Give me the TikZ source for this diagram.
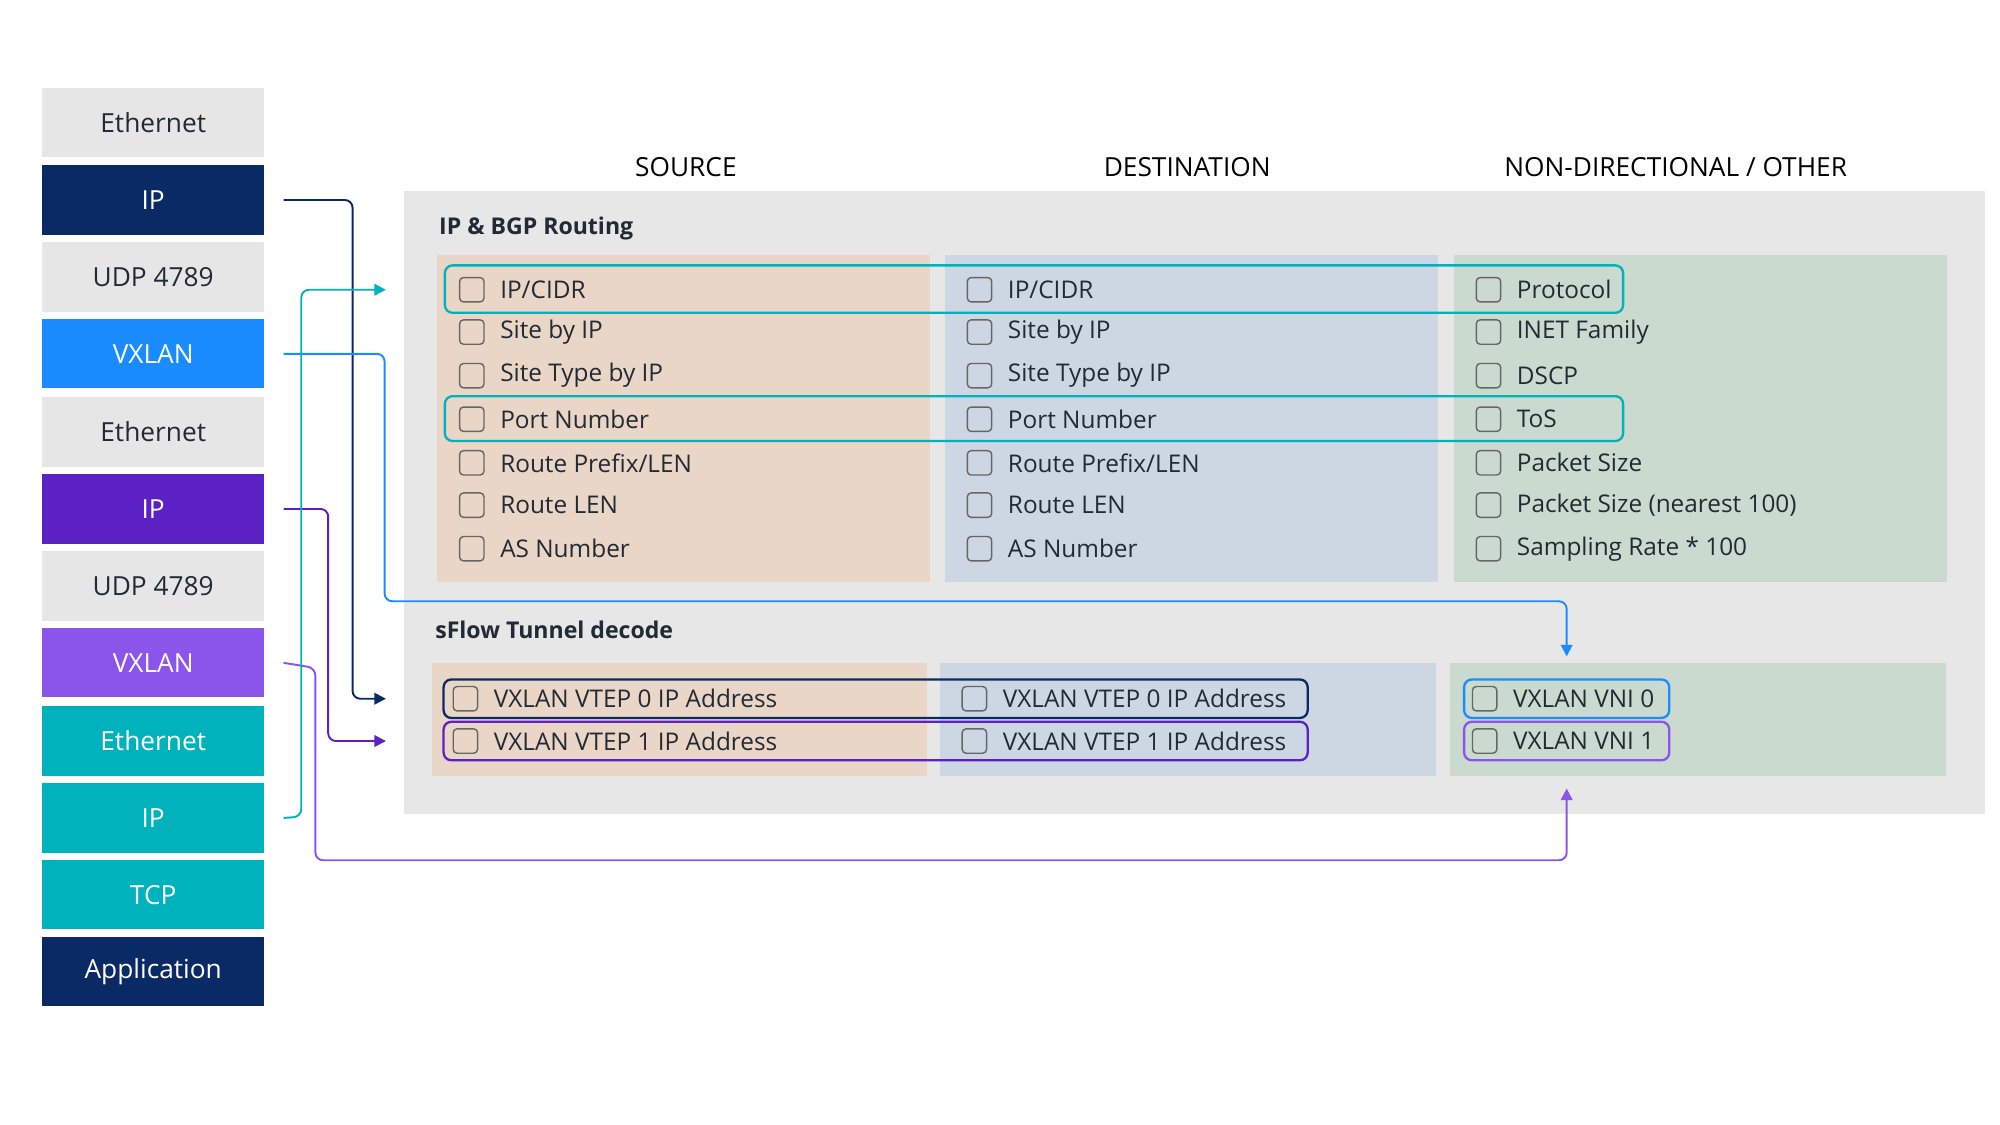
\documentclass[tikz,border=0pt]{standalone}
\usepackage{fontspec}
\setmainfont{Open Sans}
\usetikzlibrary{arrows.meta}
\definecolor{lg}{HTML}{E6E6E6}
\definecolor{navy}{HTML}{0A2A66}
\definecolor{vblue}{HTML}{1A8CFF}
\definecolor{ipp}{HTML}{5B21C4}
\definecolor{vxp}{HTML}{8B55EC}
\definecolor{teal}{HTML}{00B2BC}
\definecolor{panel}{HTML}{E7E7E7}
\definecolor{src}{HTML}{EAD6C6}
\definecolor{dst}{HTML}{CDD6E3}
\definecolor{oth}{HTML}{CBDACE}
\definecolor{txt}{HTML}{222A35}
\begin{document}
\begin{tikzpicture}[x=1pt,y=-1pt,
  layer/.style={minimum width=173pt,minimum height=54pt,inner sep=0,font=\fontsize{20.5}{24}\selectfont},
  lt/.style={layer,fill=lg,text=txt},
  dk/.style={layer,fill=#1,text=white},
  hdr/.style={font=\fontsize{20.5}{24}\selectfont,text=black},
  ttl/.style={font=\fontsize{18}{20}\selectfont\bfseries,text=txt,anchor=west},
  item/.style={font=\fontsize{19}{22}\selectfont,text=txt,anchor=west,inner sep=0},
  cb/.style={draw=gray!80!black,line width=1.1pt,rounded corners=3pt,minimum size=19pt,inner sep=0},
  hl/.style={draw=#1,line width=1.8pt,rounded corners=6pt},
  con/.style={line width=1.5pt,rounded corners=6pt,-{Triangle[length=9pt,width=9pt]}}]
\useasboundingbox (0,0) rectangle (1560,877);
% layers
\node[lt] (l1) at (119.5,95.5) {Ethernet};
\node[dk=navy] (l2) at (119.5,156) {IP};
\node[lt] (l3) at (119.5,216) {UDP 4789};
\node[dk=vblue] (l4) at (119.5,276) {VXLAN};
\node[lt] (l5) at (119.5,337) {Ethernet};
\node[dk=ipp] (l6) at (119.5,397) {IP};
\node[lt] (l7) at (119.5,457) {UDP 4789};
\node[dk=vxp] (l8) at (119.5,517) {VXLAN};
\node[dk=teal] (l9) at (119.5,578) {Ethernet};
\node[dk=teal] (l10) at (119.5,638) {IP};
\node[dk=teal] (l11) at (119.5,698) {TCP};
\node[dk=navy] (l12) at (119.5,758) {Application};
% headers
\node[hdr] (h1) at (535,130) {SOURCE};
\node[hdr] (h2) at (926,130) {DESTINATION};
\node[hdr] (h3) at (1307,130) {NON-DIRECTIONAL / OTHER};
% panel
\fill[panel] (315,149) rectangle (1548,635);
\node[ttl] (t1) at (339,178) {IP \& BGP Routing};
\node[ttl] (t2) at (336,491) {sFlow Tunnel decode};
\fill[src] (341,199) rectangle (725,454);
\fill[dst] (737,199) rectangle (1122,454);
\fill[oth] (1134,199) rectangle (1519,454);
\fill[src] (337,517) rectangle (723,605);
\fill[dst] (733,517) rectangle (1120,605);
\fill[oth] (1131,517) rectangle (1518,605);
% items upper
\foreach \y/\a/\c [count=\i] in {226/IP\slash CIDR/Protocol,259/Site by IP/INET Family,293/Site Type by IP/DSCP,327/Port Number/ToS,361/Route Prefix\slash LEN/Packet Size,394/Route LEN/Packet Size (nearest 100),428/AS Number/Sampling Rate * 100}{
  \node[cb] (sa\i) at (368,\y) {}; \node[item] (st\i) at (390,\y) {\a};
  \node[cb] (da\i) at (764,\y) {}; \node[item] (dt\i) at (786,\y) {\a};
  \node[cb] (oa\i) at (1161,\y) {}; \node[item] (ot\i) at (1183,\y) {\c};
}
\foreach \y/\a/\c [count=\i] in {545/VXLAN VTEP 0 IP Address/VXLAN VNI 0,578/VXLAN VTEP 1 IP Address/VXLAN VNI 1}{
  \node[cb] (sb\i) at (363,\y) {}; \node[item] (su\i) at (385,\y) {\a};
  \node[cb] (db\i) at (760,\y) {}; \node[item] (du\i) at (782,\y) {\a};
  \node[cb] (ob\i) at (1158,\y) {}; \node[item] (ou\i) at (1180,\y) {\c};
}
% highlights
\draw[hl=teal] (347,207) rectangle (1266,244);
\draw[hl=teal] (347,309) rectangle (1266,344);
\draw[hl=navy] (346,530) rectangle (1020,560);
\draw[hl=ipp] (346,563) rectangle (1020,593);
\draw[hl=vblue] (1142,530) rectangle (1302,560);
\draw[hl=vxp] (1142,563) rectangle (1302,593);
% connectors
\coordinate (e1) at (301,545);
\coordinate (e2) at (1222,512);
\coordinate (e3) at (301,578);
\coordinate (e4) at (1222,615);
\coordinate (e5) at (301,226);
\draw[con,navy] (l2.east)++(15,0) -- (275,156) -- (275,545) -- (e1);
\draw[con,vblue] (l4.east)++(15,0) -- (300,276) -- (300,469) -- (1222,469) -- (e2);
\draw[con,ipp] (l6.east)++(15,0) -- (256,397) -- (256,578) -- (e3);
\draw[con,vxp] (l8.east)++(15,0) -- (246,521) -- (246,671) -- (1222,671) -- (e4);
\draw[con,teal] (l10.east)++(15,0) -- (235,637) -- (235,226) -- (e5);
\end{tikzpicture}
\end{document}
